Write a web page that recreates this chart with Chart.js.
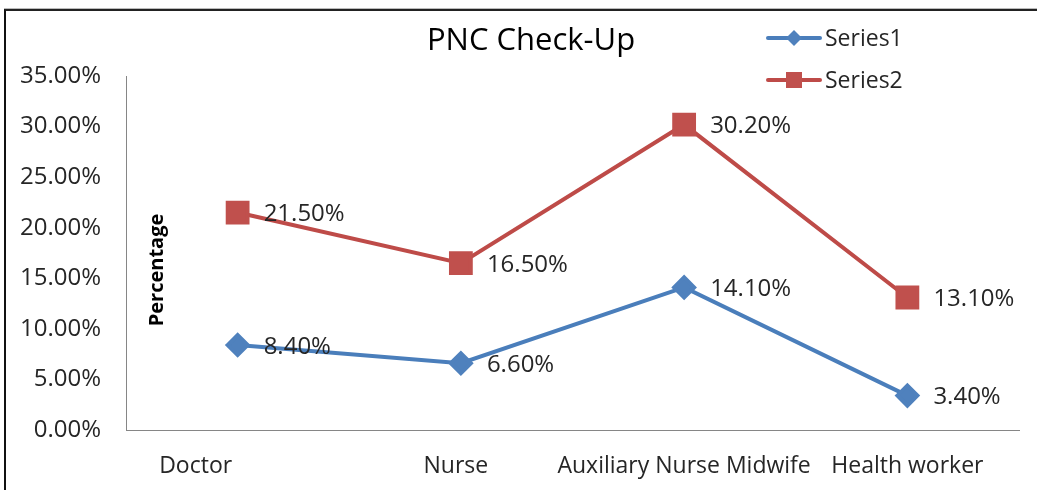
<!DOCTYPE html>
<html>
<head>
<meta charset="utf-8">
<script src="https://cdn.jsdelivr.net/npm/chart.js@4/dist/chart.umd.min.js"></script>
<style>
  html, body { margin: 0; padding: 0; background: #fff; }
  #wrap { position: relative; width: 1037px; height: 490px; overflow: hidden; }
  #frame { position: absolute; left: 4px; top: 9px; width: 1100px; height: 500px; border-left: 2px solid #111; border-top: 2px solid #222; box-shadow: 0 -1px 0 #bbb; }
  canvas { position: absolute; left: 0; top: 0; }
</style>
</head>
<body>
<div id="wrap">
  <div id="frame"></div>
  <canvas id="chart" width="1037" height="490"></canvas>
</div>
<script>
const categories = ["Doctor", "Nurse", "Auxiliary Nurse Midwife", "Health worker"];
const series1 = [8.4, 6.6, 14.1, 3.4];
const series2 = [21.5, 16.5, 30.2, 13.1];
const yTicks = [0, 5, 10, 15, 20, 25, 30, 35];

const FONT = "'Open Sans', 'Liberation Sans', sans-serif";
const TEXT = '#262626';

// value labels to the right of each point
const valueLabels = {
  id: 'valueLabels',
  afterDatasetsDraw(chart) {
    const ctx = chart.ctx;
    ctx.save();
    ctx.font = '24px ' + FONT;
    ctx.fillStyle = TEXT;
    ctx.textAlign = 'left';
    ctx.textBaseline = 'middle';
    chart.data.datasets.forEach((ds, i) => {
      chart.getDatasetMeta(i).data.forEach((pt, j) => {
        ctx.fillText(ds.data[j].toFixed(2) + '%', pt.x + 26, pt.y + 2);
      });
    });
    ctx.restore();
  }
};

// category labels under the axis (Excel pushed the first one left)
const xLabels = {
  id: 'xLabels',
  afterDraw(chart) {
    const ctx = chart.ctx;
    const scale = chart.scales.x;
    ctx.save();
    ctx.font = '23px ' + FONT;
    ctx.fillStyle = TEXT;
    ctx.textAlign = 'center';
    ctx.textBaseline = 'middle';
    categories.forEach((c, i) => {
      const nudge = i === 0 ? -42 : (i === 1 ? -5 : 0);
      ctx.fillText(c, scale.getPixelForTick(i) + nudge, scale.bottom - 24);
    });
    ctx.restore();
  }
};

// title, axis title and the stacked legend
const extras = {
  id: 'extras',
  afterDraw(chart) {
    const ctx = chart.ctx;
    ctx.save();
    ctx.fillStyle = '#000';
    ctx.font = '31px ' + FONT;
    ctx.textAlign = 'center';
    ctx.textBaseline = 'middle';
    ctx.fillText('PNC Check-Up', 531, 41);

    ctx.save();
    ctx.translate(157, 270);
    ctx.rotate(-Math.PI / 2);
    ctx.font = 'bold 20px ' + FONT;
    ctx.fillText('Percentage', 0, 0);
    ctx.restore();

    chart.data.datasets.forEach((ds, i) => {
      const y = 38 + i * 42;
      ctx.strokeStyle = ds.borderColor;
      ctx.lineWidth = 4;
      ctx.lineCap = 'round';
      ctx.beginPath();
      ctx.moveTo(768, y);
      ctx.lineTo(820, y);
      ctx.stroke();
      ctx.fillStyle = ds.pointBackgroundColor;
      ctx.beginPath();
      if (ds.pointStyle === 'rectRot') {
        ctx.moveTo(794, y - 8); ctx.lineTo(802, y); ctx.lineTo(794, y + 8); ctx.lineTo(786, y);
      } else {
        ctx.rect(786, y - 8, 16, 16);
      }
      ctx.fill();
      ctx.fillStyle = TEXT;
      ctx.font = '23px ' + FONT;
      ctx.textAlign = 'left';
      ctx.fillText(ds.label, 825, y + 1);
    });
    ctx.restore();
  }
};

new Chart(document.getElementById('chart'), {
  type: 'line',
  data: {
    labels: categories,
    datasets: [
      {
        label: 'Series1',
        data: series1,
        borderColor: '#4A7EBB',
        pointBackgroundColor: '#4F81BD',
        pointBorderColor: '#4F81BD',
        pointStyle: 'rectRot',
        pointRadius: 10,
        borderWidth: 4,
        tension: 0
      },
      {
        label: 'Series2',
        data: series2,
        borderColor: '#BE4B48',
        pointBackgroundColor: '#C0504D',
        pointBorderColor: '#C0504D',
        pointStyle: 'rect',
        pointRadius: 14,
        borderWidth: 4,
        tension: 0
      }
    ]
  },
  options: {
    responsive: false,
    animation: false,
    layout: { padding: { left: 0, right: 13, top: 76, bottom: 0 } },
    plugins: {
      legend: { display: false },
      title: { display: false },
      tooltip: { enabled: false }
    },
    scales: {
      x: {
        offset: true,
        grid: { display: false, drawTicks: false },
        border: { display: true, color: '#868686', width: 1 },
        ticks: { display: false },
        afterFit(scale) { scale.height = 60; }
      },
      y: {
        min: 0,
        max: 35,
        grid: { display: false, drawTicks: false },
        border: { display: true, color: '#868686', width: 1 },
        afterBuildTicks(scale) { scale.ticks = yTicks.map(v => ({ value: v })); },
        ticks: {
          color: TEXT,
          font: { family: FONT, size: 24 },
          padding: 25,
          callback: v => v.toFixed(2) + '%'
        },
        afterFit(scale) { scale.width = 126; }
      }
    }
  },
  plugins: [valueLabels, xLabels, extras]
});
</script>
</body>
</html>
